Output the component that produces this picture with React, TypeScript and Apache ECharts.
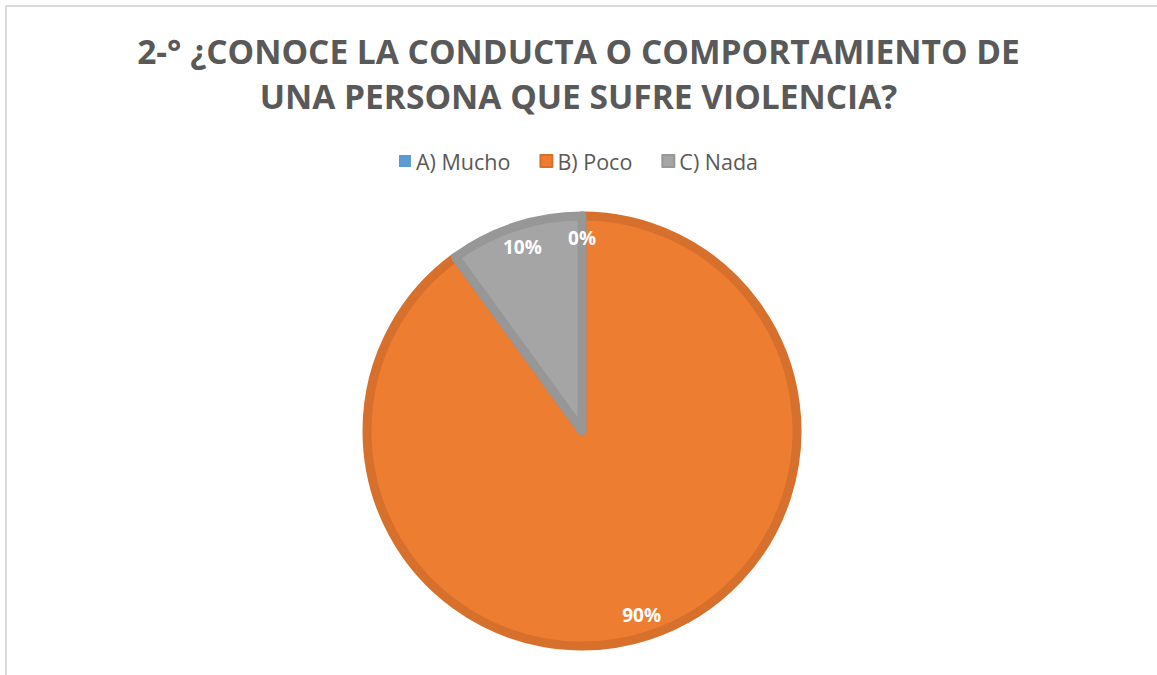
import React, { useEffect, useRef } from "react";
import * as echarts from "echarts";

const categories = ["A) Mucho", "B) Poco", "C) Nada"];
const values = [0, 90, 10];
const fillColors = ["#5B9BD5", "#ED7D31", "#A5A5A5"];
const borderColors = ["#5B9BD5", "#D6702C", "#979797"];
const titleLines = [
  "2-° ¿CONOCE LA CONDUCTA O COMPORTAMIENTO DE",
  "UNA PERSONA QUE SUFRE VIOLENCIA?",
];

export default function App() {
  const ref = useRef<HTMLDivElement>(null);
  useEffect(() => {
    if (!ref.current) return;
    const chart = echarts.init(ref.current, undefined, { renderer: "svg" });
    const data = categories.map((name, i) => ({
      name,
      value: values[i],
      itemStyle: {
        color: fillColors[i],
        borderColor: borderColors[i],
        borderWidth: values[i] === 0 ? 0 : 9,
      },
    }));
    chart.setOption({
      animation: false,
      backgroundColor: "#ffffff",
      title: {
        text: titleLines.join("\n"),
        left: "center",
        top: 23,
        textStyle: {
          fontFamily: "Open Sans",
          fontWeight: "bold",
          fontSize: 33.5,
          color: "#595959",
          lineHeight: 45,
        },
      },
      legend: {
        data: categories,
        top: 145,
        left: "center",
        itemWidth: 12,
        itemHeight: 12,
        itemGap: 29,
        icon: "rect",
        textStyle: {
          fontFamily: "Open Sans",
          fontSize: 21.5,
          color: "#595959",
        },
      },
      graphic: [
        {
          type: "rect",
          shape: { x: 6, y: 6, width: 1200, height: 700 },
          style: { fill: "none", stroke: "#d9d9d9", lineWidth: 2 },
          silent: true,
        },
      ],
      series: [
        {
          type: "pie",
          center: [582, 431],
          radius: [0, 215],
          startAngle: 90,
          clockwise: true,
          data,
          label: { show: false },
          labelLine: { show: false },
          silent: true,
        },
        {
          type: "pie",
          center: [582, 431],
          radius: [160, 220],
          startAngle: 90,
          clockwise: true,
          data: categories.map((name, i) => ({ name, value: values[i] })),
          itemStyle: { color: "rgba(0,0,0,0)", borderWidth: 0 },
          label: {
            show: true,
            position: "inside",
            formatter: (p: any) => Math.round(p.percent) + "%",
            color: "#ffffff",
            fontFamily: "Open Sans",
            fontWeight: "bold",
            fontSize: 19,
          },
          labelLine: { show: false },
          silent: true,
          legendHoverLink: false,
        },
      ],
    });
    return () => chart.dispose();
  }, []);
  return (
    <div
      ref={ref}
      style={{ position: "fixed", left: 0, top: 0, width: 1157, height: 675 }}
    />
  );
}
